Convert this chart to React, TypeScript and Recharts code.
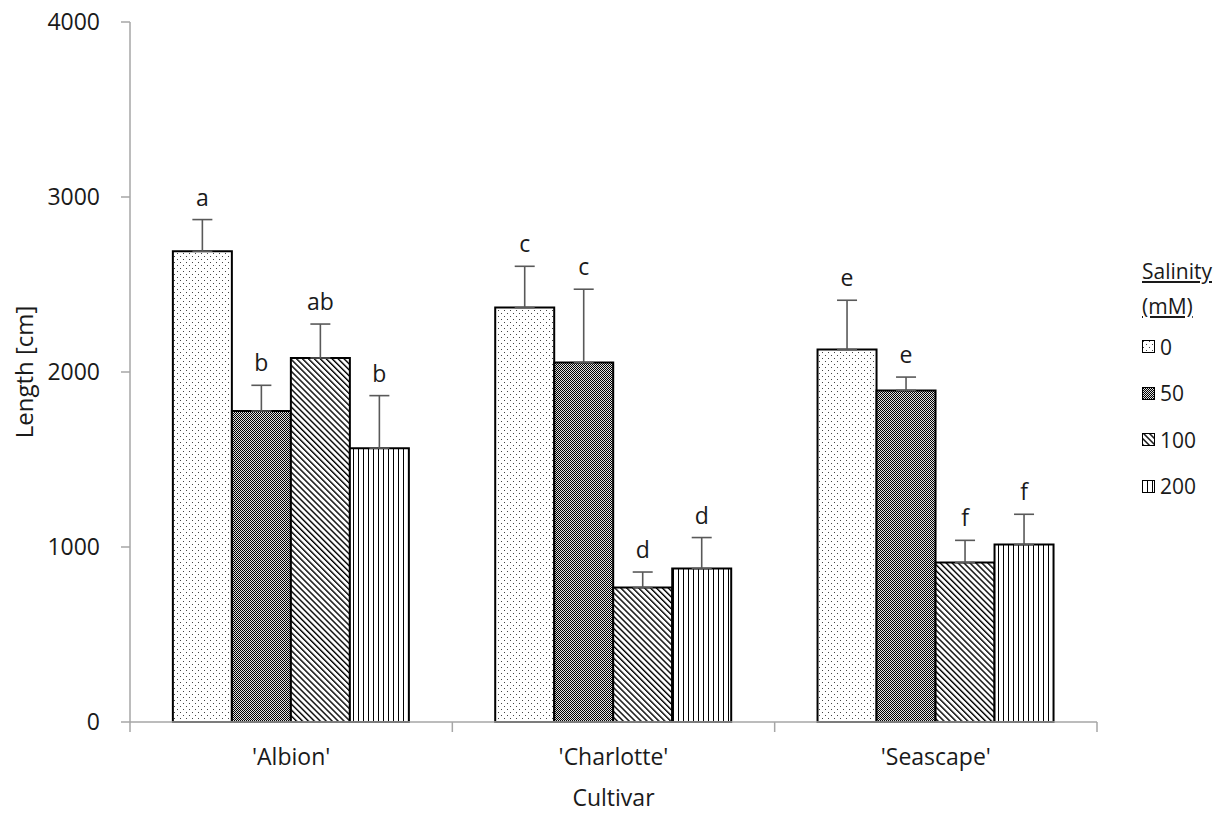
import React from "react";
import {
  BarChart,
  Bar,
  XAxis,
  YAxis,
  ErrorBar,
  LabelList,
} from "recharts";

const cultivars = ["'Albion'", "'Charlotte'", "'Seascape'"];
const salinityLevels = ["0", "50", "100", "200"];

// mean length per salinity level (mM), one value per cultivar
const mean0 = [2690, 2368, 2128];
const mean50 = [1777, 2054, 1895];
const mean100 = [2080, 768, 911];
const mean200 = [1565, 877, 1014];

// upper error bar lengths
const err0 = [181, 236, 282];
const err50 = [147, 419, 76];
const err100 = [194, 89, 127];
const err200 = [300, 177, 173];

// significance letters
const sig0 = ["a", "c", "e"];
const sig50 = ["b", "c", "e"];
const sig100 = ["ab", "d", "f"];
const sig200 = ["b", "d", "f"];

const yTicks = [0, 1000, 2000, 3000, 4000];

const FONT = "'Open Sans', 'Noto Sans', sans-serif";
const AXIS_GRAY = "#a6a6a6";
const TEXT = "#1a1a1a";

const means = [mean0, mean50, mean100, mean200];
const errs = [err0, err50, err100, err200];
const sigs = [sig0, sig50, sig100, sig200];

const chartData = cultivars.map((name, i) => {
  const row: Record<string, any> = { name };
  salinityLevels.forEach((lvl, k) => {
    row[`m${lvl}`] = means[k][i];
    row[`e${lvl}`] = [0, errs[k][i]];
    row[`s${lvl}`] = sigs[k][i];
    row[`err${lvl}`] = errs[k][i];
  });
  return row;
});

const patternIds = ["pDots", "pChecker", "pDiag", "pVert"];

function PatternDefs({ prefix }: { prefix: string }) {
  return (
    <defs>
      <pattern id={`${prefix}pDots`} width="6" height="6" patternUnits="userSpaceOnUse">
        <rect width="6" height="6" fill="#ffffff" />
        <rect x="1" y="1" width="1" height="1" fill="#444" />
        <rect x="4" y="4" width="1" height="1" fill="#444" />
      </pattern>
      <pattern id={`${prefix}pChecker`} width="2" height="2" patternUnits="userSpaceOnUse">
        <rect width="2" height="2" fill="#e0e0e0" />
        <rect x="0" y="0" width="1" height="1" fill="#000" />
        <rect x="1" y="1" width="1" height="1" fill="#000" />
      </pattern>
      <pattern
        id={`${prefix}pDiag`}
        width="4.2"
        height="4.2"
        patternUnits="userSpaceOnUse"
        patternTransform="rotate(-45)"
      >
        <rect width="4.2" height="4.2" fill="#ffffff" />
        <line x1="0.7" y1="0" x2="0.7" y2="4.2" stroke="#000" strokeWidth="1.4" />
      </pattern>
      <pattern id={`${prefix}pVert`} width="5" height="5" patternUnits="userSpaceOnUse">
        <rect width="5" height="5" fill="#ffffff" />
        <line x1="0.5" y1="0" x2="0.5" y2="5" stroke="#000" strokeWidth="1" />
      </pattern>
    </defs>
  );
}

function CultivarTick(props: any) {
  const { x, y, payload, index, visibleTicksCount } = props;
  const half = payload?.offset ?? 0;
  const axisY = y - 10;
  return (
    <g>
      <line x1={x - half} y1={axisY} x2={x - half} y2={axisY + 10} stroke={AXIS_GRAY} strokeWidth={1.5} />
      {index === visibleTicksCount - 1 && (
        <line x1={x + half} y1={axisY} x2={x + half} y2={axisY + 10} stroke={AXIS_GRAY} strokeWidth={1.5} />
      )}
      <text x={x} y={y + 33} textAnchor="middle" fontSize={23} fontFamily={FONT} fill={TEXT}>
        {payload.value}
      </text>
    </g>
  );
}

// letter above the error bar cap; cap height derived from the bar's own scale
function makeSigLabel(errKey: string) {
  return (props: any) => {
    const { x, y, width, height, value, index } = props;
    const mean = chartData[index][`m${errKey}`];
    const err = chartData[index][`err${errKey}`];
    const capY = y - (err * height) / mean;
    return (
      <text
        x={x + width / 2}
        y={capY - 14}
        textAnchor="middle"
        fontSize={23}
        fontFamily={FONT}
        fill={TEXT}
      >
        {value}
      </text>
    );
  };
}

function LegendBox() {
  return (
    <div
      style={{
        position: "absolute",
        left: 1134,
        top: 254,
        fontFamily: FONT,
        fontSize: 21,
        color: TEXT,
        lineHeight: "35px",
      }}
    >
      <div style={{ textDecoration: "underline" }}>Salinity</div>
      <div style={{ textDecoration: "underline" }}>(mM)</div>
      {salinityLevels.map((lvl, k) => (
        <div key={lvl} style={{ display: "flex", alignItems: "center", height: 46.5 }}>
          <svg width={14} height={14} style={{ marginRight: 4 }}>
            <PatternDefs prefix="lg" />
            <rect x={0.5} y={0.5} width={12} height={12} fill={`url(#lg${patternIds[k]})`} stroke="#000" strokeWidth={1} />
          </svg>
          <span>{lvl}</span>
        </div>
      ))}
    </div>
  );
}

export default function App() {
  return (
    <div style={{ position: "relative", width: 1214, height: 813, marginTop: -8 }}>
      <BarChart
        width={1214}
        height={813}
        data={chartData}
        margin={{ top: 22, right: 125, left: 10, bottom: 11 }}
        barCategoryGap="13.3%"
        barGap={0}
      >
        <PatternDefs prefix="" />
        <XAxis
          dataKey="name"
          height={80}
          tickLine={false}
          tickSize={10}
          tickMargin={0}
          axisLine={{ stroke: AXIS_GRAY, strokeWidth: 1.5 }}
          tick={<CultivarTick />}
          interval={0}
          label={(p: any) => {
            const vb = p.viewBox;
            return (
              <text
                x={vb.x + vb.width / 2}
                y={vb.y + 84}
                textAnchor="middle"
                fontSize={23}
                fontFamily={FONT}
                fill={TEXT}
              >
                Cultivar
              </text>
            );
          }}
        />
        <YAxis
          width={112}
          domain={[0, 4000]}
          ticks={yTicks}
          interval={0}
          tickSize={9}
          tickMargin={21}
          tickLine={{ stroke: AXIS_GRAY, strokeWidth: 1.5 }}
          axisLine={{ stroke: AXIS_GRAY, strokeWidth: 1.5 }}
          tick={{ fontSize: 23, fontFamily: FONT, fill: TEXT }}
          label={(p: any) => {
            const vb = p.viewBox;
            const cx = vb.x + 15;
            const cy = vb.y + vb.height / 2;
            return (
              <text
                x={cx}
                y={cy}
                transform={`rotate(-90 ${cx} ${cy})`}
                textAnchor="middle"
                fontSize={24}
                fontFamily={FONT}
                fill={TEXT}
              >
                Length [cm]
              </text>
            );
          }}
        />
        {salinityLevels.map((lvl, k) => (
          <Bar
            key={lvl}
            dataKey={`m${lvl}`}
            name={lvl}
            fill={`url(#${patternIds[k]})`}
            stroke="#000"
            strokeWidth={2}
            isAnimationActive={false}
          >
            <ErrorBar
              dataKey={`e${lvl}`}
              direction="y"
              width={10}
              stroke="#595959"
              strokeWidth={1.6}
              isAnimationActive={false}
            />
            <LabelList dataKey={`s${lvl}`} content={makeSigLabel(lvl)} />
          </Bar>
        ))}
      </BarChart>
      <LegendBox />
    </div>
  );
}
